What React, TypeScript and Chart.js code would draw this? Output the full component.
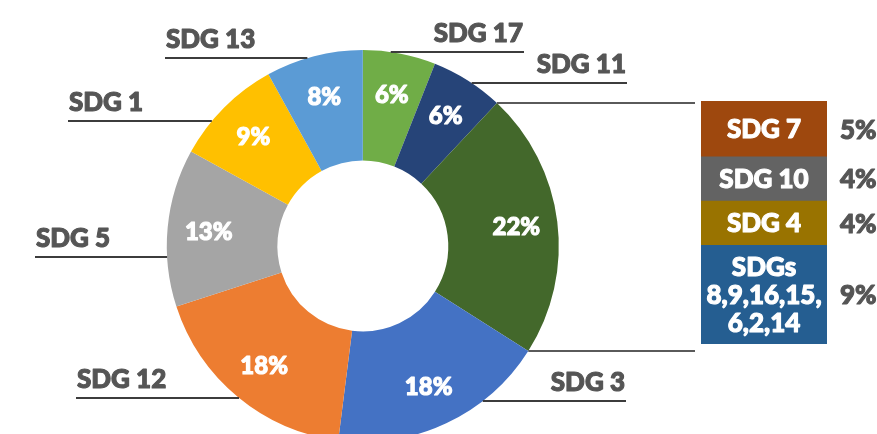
import React, { useEffect, useRef } from 'react';
import { Chart, registerables } from 'chart.js';

Chart.register(...registerables);

// ---- data ----
const sliceLabels = ['SDG 17', 'SDG 11', 'Other', 'SDG 3', 'SDG 12', 'SDG 5', 'SDG 1', 'SDG 13'];
const sliceValues = [6, 6, 22, 18, 18, 13, 9, 8];
const sliceColors = ['#70AD47', '#264478', '#43682B', '#4472C4', '#ED7D31', '#A5A5A5', '#FFC000', '#5B9BD5'];

const breakdownLabels = [['SDG 7'], ['SDG 10'], ['SDG 4'], ['SDGs', '8,9,16,15,', '6,2,14']];
const breakdownValues = [5, 4, 4, 9];
const breakdownColors = ['#9E480E', '#636363', '#997300', '#255E91'];

// ---- layout / style ----
const FONT = '"Lato", "DejaVu Sans", sans-serif';
const LABEL_FONT = `900 26px ${FONT}`;
const PCT_FONT = `900 24px ${FONT}`;
const TEXT_GRAY = '#555555';
const BOX_LEFT = 701;
const BOX_TOP = 101;
const BOX_W = 126;
const BOX_H = 243;

// callout placement for each named slice (underline y, outer end of underline)
const callouts: { label: string; side: 'left' | 'right'; lineY: number; end: number }[] = [
  { label: 'SDG 17', side: 'right', lineY: 52, end: 524 },
  { label: 'SDG 11', side: 'right', lineY: 83, end: 627 },
  { label: 'SDG 3', side: 'right', lineY: 401, end: 626 },
  { label: 'SDG 12', side: 'left', lineY: 398, end: 76 },
  { label: 'SDG 5', side: 'left', lineY: 257, end: 35 },
  { label: 'SDG 1', side: 'left', lineY: 121, end: 68 },
  { label: 'SDG 13', side: 'left', lineY: 58, end: 165 },
];

function boldText(ctx: CanvasRenderingContext2D, t: string, x: number, y: number, color: string) {
  ctx.fillStyle = color;
  ctx.strokeStyle = color;
  ctx.lineWidth = 1.1;
  ctx.lineJoin = 'round';
  ctx.strokeText(t, x, y);
  ctx.fillText(t, x, y);
}

const doughnutPlugin = {
  id: 'doughnutDecor',
  afterDatasetsDraw(chart: any) {
    const ctx = chart.ctx as CanvasRenderingContext2D;
    const meta = chart.getDatasetMeta(0);
    const arcs = meta.data;
    if (!arcs.length) return;
    const a0 = arcs[0].getProps(['x', 'y', 'innerRadius', 'outerRadius'], true);
    const cx = a0.x, cy = a0.y, R = a0.outerRadius, r = a0.innerRadius;

    // percentage labels inside slices
    ctx.save();
    ctx.font = PCT_FONT;
    ctx.textAlign = 'center';
    ctx.textBaseline = 'alphabetic';
    arcs.forEach((arc: any, i: number) => {
      const p = arc.getProps(['startAngle', 'endAngle'], true);
      const mid = (p.startAngle + p.endAngle) / 2;
      const rr = (R + r) / 2 + 14;
      const x = cx + Math.cos(mid) * rr;
      const y = cy + Math.sin(mid) * rr;
      boldText(ctx, `${sliceValues[i]}%`, x, y + 8.5, '#ffffff');
    });
    ctx.restore();

    // callout labels with underline
    ctx.save();
    ctx.font = LABEL_FONT;
    ctx.textBaseline = 'alphabetic';
    callouts.forEach((c) => {
      const idx = chart.data.labels.indexOf(c.label);
      if (idx < 0) return;
      const dy = c.lineY - cy;
      const dx = Math.sqrt(Math.max(R * R - dy * dy, 0));
      const edgeX = c.side === 'left' ? cx - dx : cx + dx;
      ctx.strokeStyle = '#3c3c3c';
      ctx.lineWidth = 2;
      ctx.beginPath();
      ctx.moveTo(edgeX, c.lineY);
      ctx.lineTo(c.end, c.lineY);
      ctx.stroke();
      if (c.side === 'left') {
        ctx.textAlign = 'left';
        boldText(ctx, chart.data.labels[idx], c.end + 1, c.lineY - 10.5, TEXT_GRAY);
      } else {
        ctx.textAlign = 'right';
        boldText(ctx, chart.data.labels[idx], c.end - 1, c.lineY - 10.5, TEXT_GRAY);
      }
    });
    ctx.restore();

    // connector lines from the "Other" slice to the breakdown box
    const oi = chart.data.labels.indexOf('Other');
    if (oi >= 0) {
      const p = arcs[oi].getProps(['startAngle', 'endAngle'], true);
      ctx.save();
      ctx.strokeStyle = '#5a5a5a';
      ctx.lineWidth = 2;
      [p.startAngle, p.endAngle].forEach((ang: number) => {
        const x = cx + Math.cos(ang) * R;
        const y = cy + Math.sin(ang) * R;
        ctx.beginPath();
        ctx.moveTo(x, y);
        ctx.lineTo(BOX_LEFT - 6, y);
        ctx.stroke();
      });
      ctx.restore();
    }
  },
};

const barPlugin = {
  id: 'barDecor',
  afterDatasetsDraw(chart: any) {
    const ctx = chart.ctx as CanvasRenderingContext2D;
    ctx.save();
    ctx.textBaseline = 'alphabetic';
    chart.data.datasets.forEach((_ds: any, i: number) => {
      const bar = chart.getDatasetMeta(i).data[0];
      if (!bar) return;
      const b = bar.getProps(['x', 'y', 'base'], true);
      const mid = (b.y + b.base) / 2;
      const lines = breakdownLabels[i];
      const lh = 28;
      ctx.font = LABEL_FONT;
      ctx.textAlign = 'center';
      lines.forEach((t, j) => {
        boldText(ctx, t, b.x, mid + (j - (lines.length - 1) / 2) * lh + 9.5, '#ffffff');
      });
      ctx.textAlign = 'left';
      boldText(ctx, `${breakdownValues[i]}%`, chart.chartArea.right + 13, mid + 10, TEXT_GRAY);
    });
    ctx.restore();
  },
};

export default function App() {
  const pieRef = useRef<HTMLCanvasElement | null>(null);
  const barRef = useRef<HTMLCanvasElement | null>(null);

  useEffect(() => {
    document.body.style.margin = '0';
    document.body.style.overflow = 'hidden';
    const pie = new Chart(pieRef.current as HTMLCanvasElement, {
      type: 'doughnut',
      data: {
        labels: sliceLabels,
        datasets: [
          {
            data: sliceValues,
            backgroundColor: sliceColors,
            borderWidth: 0,
            hoverOffset: 0,
          },
        ],
      },
      options: {
        animation: false,
        responsive: true,
        maintainAspectRatio: false,
        radius: 196,
        cutout: '43.6%',
        events: [],
        layout: { padding: { left: 0, top: 0, right: 151.4, bottom: 0 } },
        plugins: { legend: { display: false }, tooltip: { enabled: false } },
      } as any,
      plugins: [doughnutPlugin],
    });

    const bar = new Chart(barRef.current as HTMLCanvasElement, {
      type: 'bar',
      data: {
        labels: [''],
        datasets: breakdownValues.map((v, i) => ({
          label: breakdownLabels[i].join(' '),
          data: [v],
          backgroundColor: breakdownColors[i],
          borderWidth: 0,
          barPercentage: 1,
          categoryPercentage: 1,
        })),
      },
      options: {
        animation: false,
        responsive: true,
        maintainAspectRatio: false,
        events: [],
        layout: { padding: { left: 0, top: 0, right: 50, bottom: 0 } },
        scales: {
          x: { display: false, stacked: true },
          y: { display: false, stacked: true, reverse: true, min: 0, max: 22 },
        },
        plugins: { legend: { display: false }, tooltip: { enabled: false } },
      },
      plugins: [barPlugin],
    });

    return () => {
      pie.destroy();
      bar.destroy();
    };
  }, []);

  return (
    <div style={{ position: 'fixed', left: 0, top: 0, width: 877, height: 434, overflow: 'hidden', background: '#ffffff' }}>
      <div style={{ position: 'absolute', left: 0, top: 0, width: 877, height: 492 }}>
        <canvas ref={pieRef} />
      </div>
      <div style={{ position: 'absolute', left: BOX_LEFT, top: BOX_TOP, width: BOX_W + 50, height: BOX_H }}>
        <canvas ref={barRef} />
      </div>
    </div>
  );
}
